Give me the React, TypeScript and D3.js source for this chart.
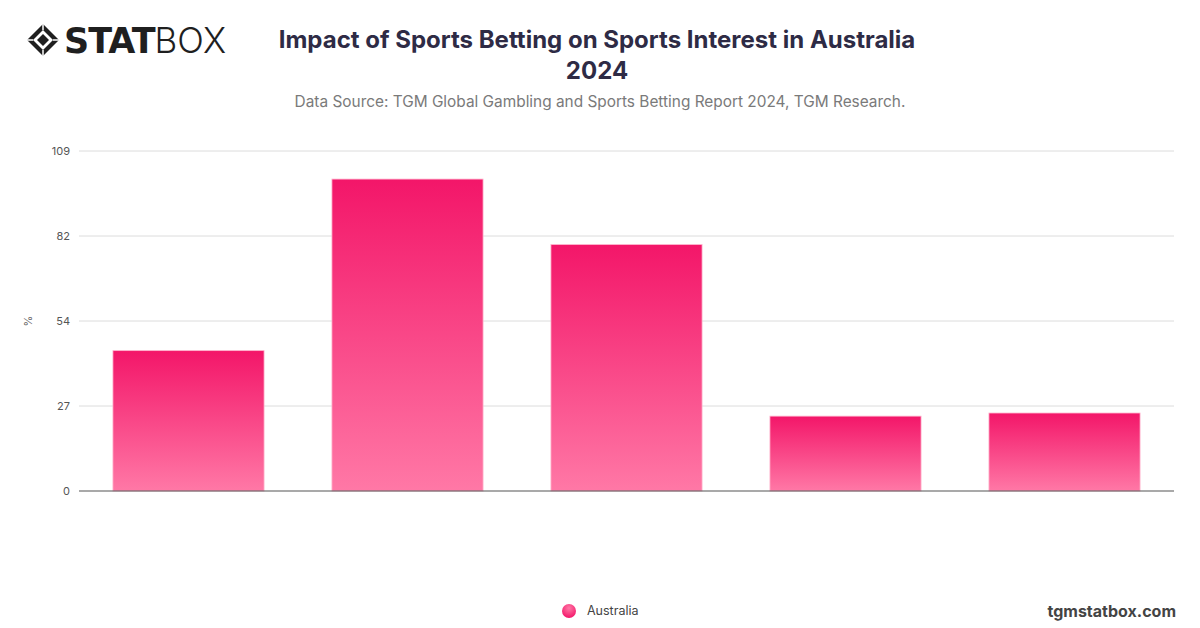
import React from "react";
import * as d3 from "d3";

const categories = ["Category 1", "Category 2", "Category 3", "Category 4", "Category 5"];
const seriesName = "Australia";
const values = [45, 100, 79, 24, 25];
const yMax = 109;
const tickValues = [0, 27.25, 54.5, 81.75, 109];
const tickLabels = ["0", "27", "54", "82", "109"];

const W = 1200;
const H = 628;
const FONT = "Inter, 'Noto Sans', sans-serif";

export default function App() {
  const x = d3
    .scaleBand<string>()
    .domain(categories)
    .range([79, 1174])
    .paddingInner(0.31)
    .paddingOuter(0.155);
  const y = d3.scaleLinear().domain([0, yMax]).range([491, 151]);

  return (
    <svg
      width={W}
      height={H}
      style={{ position: "absolute", left: 0, top: 0, background: "#fff" }}
      fontFamily={FONT}
    >
      <defs>
        <linearGradient id="barGrad" x1="0" y1="0" x2="0" y2="1">
          <stop offset="0%" stopColor="#f31669" />
          <stop offset="100%" stopColor="#ff78a6" />
        </linearGradient>
        <radialGradient id="legGrad" cx="0.5" cy="0.3" r="0.7">
          <stop offset="0%" stopColor="#ff78a6" />
          <stop offset="100%" stopColor="#f31669" />
        </radialGradient>
      </defs>
      <rect x={0} y={0} width={W} height={H} fill="#fff" />

      {/* Logo */}
      <g transform="translate(43,40)">
        <path d="M0,-16 L16,0 L0,16 L-16,0 Z" fill="#1f1f1f" />
        <path d="M0,-10 L10,0 L0,10 L-10,0 Z" fill="#fff" />
        <path d="M0,-6 L6,0 L0,6 L-6,0 Z" fill="#1f1f1f" />
        <path d="M-16,0 L-10,0 M16,0 L10,0 M0,-16 L0,-10 M0,16 L0,10" stroke="#fff" strokeWidth={1.5} />
      </g>
      <text x={64} y={53} fontSize={35} fontWeight={900} fill="#1f1f1f" fontFamily="'DejaVu Sans', Inter, sans-serif" letterSpacing={-1}>
        STAT
        <tspan fontWeight={300} fontFamily="Inter, sans-serif" letterSpacing={0}>BOX</tspan>
      </text>

      {/* Titles */}
      <text x={597} y={48} textAnchor="middle" fontSize={24} fontWeight={700} fill="#2e2b45">
        Impact of Sports Betting on Sports Interest in Australia
      </text>
      <text x={597} y={79} textAnchor="middle" fontSize={24} fontWeight={700} fill="#2e2b45">
        2024
      </text>
      <text x={600} y={107} textAnchor="middle" fontSize={15.4} fill="#7a7a7a">
        Data Source: TGM Global Gambling and Sports Betting Report 2024, TGM Research.
      </text>

      {/* Grid + y ticks */}
      {tickValues.map((t, i) => (
        <g key={i}>
          {i > 0 && (
            <line x1={79} x2={1174} y1={y(t)} y2={y(t)} stroke="#dcdcdc" strokeWidth={1} />
          )}
          <text x={70} y={y(t)} dy="0.35em" textAnchor="end" fontSize={11} fill="#555">
            {tickLabels[i]}
          </text>
        </g>
      ))}
      <text
        transform={`translate(28,${y(54.5)}) rotate(-90)`}
        textAnchor="middle"
        dy="0.35em"
        fontSize={11}
        fill="#666"
      >
        %
      </text>

      {/* Bars */}
      {values.map((v, i) => (
        <rect
          key={i}
          x={x(categories[i])}
          y={y(v)}
          width={x.bandwidth()}
          height={y(0) - y(v)}
          fill="url(#barGrad)"
          stroke="#ffb3cc"
          strokeWidth={0.8}
        />
      ))}

      {/* Baseline */}
      <line x1={79} x2={1174} y1={y(0)} y2={y(0)} stroke="#555" strokeWidth={1.2} />

      {/* Legend */}
      <circle cx={569} cy={611} r={7} fill="url(#legGrad)" />
      <text x={587} y={611} dy="0.35em" fontSize={12.5} fill="#444">
        {seriesName}
      </text>

      <text x={1176} y={611} dy="0.35em" textAnchor="end" fontSize={16} fontWeight={700} fill="#444">
        tgmstatbox.com
      </text>
    </svg>
  );
}
